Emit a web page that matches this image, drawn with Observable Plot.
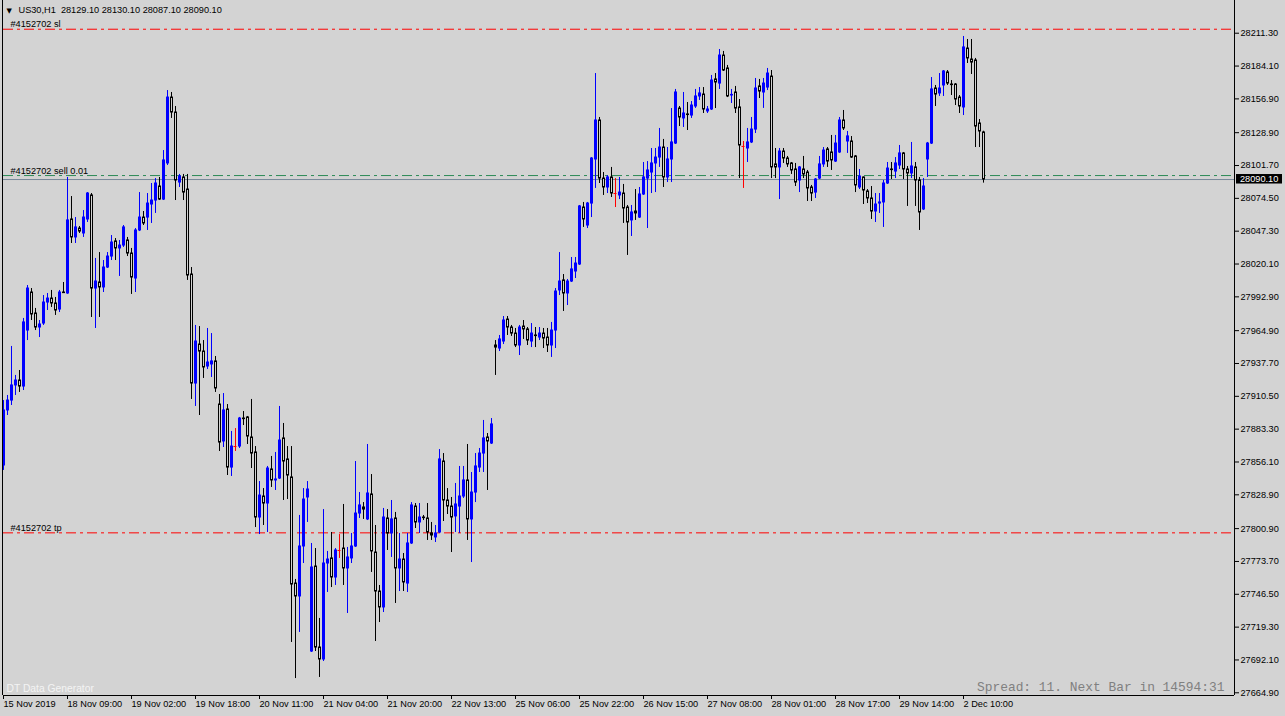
<!DOCTYPE html>
<html>
<head>
<meta charset="utf-8">
<script src="https://cdn.jsdelivr.net/npm/d3@7"></script>
<script src="https://cdn.jsdelivr.net/npm/@observablehq/plot@0.6"></script>
<style>
html,body{margin:0;padding:0;background:#d3d3d3;overflow:hidden;}
</style>
</head>
<body>
<div id="chart"></div>
<script>
const symbol = "US30,H1";
const orderId = "#4152702";
const orderSide = "sell";
const orderLots = "0.01";
const stopLoss = 28214.6;
const takeProfit = 27797.4;
const orderPrice = 28093.4;
const bid = 28090.1;
const spreadPts = 11;
const nextBarIn = "14594:31";
const watermark = "DT Data Generator";

const openP = [27853.2,27898.8,27907.0,27919.5,27923.6,27918.6,27965.0,27996.5,27979.1,27967.5,
27970.8,27988.2,27991.5,27987.4,27982.4,27996.5,27995.7,28057.0,28042.1,28049.5,
28045.4,28057.0,28076.9,27999.8,28004.8,28000.7,28017.2,28026.3,28038.8,28033.0,
28035.4,28039.6,28028.8,28008.1,28047.9,28058.6,28058.6,28069.4,28072.7,28084.3,
28073.5,28103.4,28158.0,28145.6,28087.6,28091.8,28081.8,28011.4,27921.1,27953.4,
27947.6,27935.2,27936.9,27939.4,27903.7,27873.1,27899.6,27851.5,27868.9,27868.9,
27892.1,27893.0,27876.4,27864.0,27810.1,27827.5,27821.7,27849.9,27840.8,27842.4,
27875.6,27858.2,27843.3,27755.4,27744.7,27786.1,27826.7,27699.1,27769.5,27702.4,
27692.5,27772.0,27776.2,27760.4,27782.8,27784.4,27767.9,27776.2,27786.1,27813.4,
27818.4,27808.5,27829.2,27781.1,27748.8,27735.6,27809.3,27796.9,27809.3,27767.9,
27775.3,27755.4,27788.6,27819.2,27806.0,27810.1,27809.3,27796.9,27793.6,27797.7,
27856.5,27824.2,27819.2,27811.0,27819.2,27827.5,27840.8,27808.5,27830.8,27851.5,
27863.1,27876.4,27871.4,27952.6,27950.1,27955.9,27974.1,27967.5,27962.5,27952.6,
27968.3,27965.9,27955.9,27960.9,27959.2,27962.5,27959.2,27952.6,27965.0,27998.2,
28006.5,27995.7,28005.6,28013.9,28019.7,28066.9,28052.0,28070.2,28106.7,28139.0,
28090.9,28083.5,28091.8,28078.5,28076.9,28078.5,28066.9,28056.2,28063.6,28058.6,
28077.7,28090.9,28095.9,28103.4,28108.3,28116.6,28091.8,28106.7,28119.9,28148.9,
28140.7,28144.0,28143.1,28150.6,28158.9,28160.5,28146.5,28148.1,28173.0,28169.6,
28192.8,28182.1,28159.7,28162.2,28149.8,28117.5,28115.8,28120.8,28131.5,28167.2,
28162.2,28166.3,28175.4,28102.6,28100.1,28113.3,28107.5,28103.4,28098.4,28089.3,
28098.4,28095.9,28083.5,28079.3,28090.9,28102.6,28115.0,28112.5,28105.0,28112.5,
28139.0,28121.6,28121.6,28109.2,28083.5,28091.8,28080.2,28074.4,28063.6,28070.2,
28071.1,28086.8,28098.4,28096.7,28101.7,28111.7,28098.4,28095.1,28100.1,28089.3,
28065.3,28106.7,28119.9,28165.5,28161.4,28168.0,28178.8,28168.8,28168.8,28158.0,
28149.8,28198.6,28189.5,28188.7,28136.5,28129.1];

const highP = [27907.0,27911.2,27951.8,27927.8,27931.9,27975.0,28002.3,27999.8,27983.3,27973.3,
27994.0,27995.7,27998.2,27992.4,27998.2,28004.8,28091.8,28076.0,28058.6,28051.2,
28064.4,28079.3,28078.5,28024.7,28029.6,28023.0,28029.6,28043.7,28041.2,28039.6,
28052.0,28042.1,28033.0,28049.5,28079.3,28063.6,28078.5,28086.8,28090.9,28091.8,
28114.1,28163.8,28162.2,28150.6,28094.3,28094.3,28094.3,28017.2,27969.2,27968.3,
27956.7,27966.7,27962.5,27943.5,27912.0,27912.8,27903.7,27881.4,27883.8,27893.0,
27897.9,27893.8,27907.9,27868.9,27839.9,27834.1,27852.4,27860.7,27864.0,27902.1,
27888.0,27868.9,27868.9,27758.8,27811.8,27834.1,27839.9,27788.6,27784.4,27726.5,
27816.7,27782.0,27797.7,27784.4,27796.0,27820.9,27785.3,27796.9,27856.5,27830.8,
27822.5,27870.6,27845.7,27803.5,27753.8,27817.6,27816.7,27824.2,27814.3,27796.9,
27780.3,27796.9,27822.5,27821.7,27821.7,27811.8,27821.7,27806.0,27803.5,27866.4,
27863.1,27834.1,27826.7,27838.3,27852.4,27852.4,27870.6,27847.4,27863.1,27867.3,
27890.5,27879.7,27892.1,27956.7,27960.9,27976.6,27976.6,27969.2,27966.7,27969.2,
27973.3,27967.5,27970.8,27967.5,27967.5,27966.7,27966.7,27971.7,27999.8,28029.6,
28011.4,28007.3,28025.5,28025.5,28068.6,28071.1,28071.1,28108.3,28177.9,28141.5,
28095.9,28093.4,28100.1,28090.9,28091.8,28086.0,28068.6,28068.6,28081.8,28083.5,
28104.2,28105.0,28115.8,28115.8,28132.4,28123.3,28116.6,28148.9,28164.7,28150.6,
28162.2,28153.9,28154.7,28164.7,28166.3,28166.3,28150.6,28176.3,28177.9,28197.8,
28196.2,28184.6,28164.7,28167.2,28156.4,28121.6,28132.4,28141.5,28173.8,28173.0,
28173.8,28182.1,28180.4,28115.8,28115.8,28115.8,28109.2,28104.2,28103.4,28100.9,
28109.2,28097.6,28085.2,28090.9,28109.2,28116.6,28116.6,28126.6,28126.6,28141.5,
28147.3,28129.9,28125.7,28110.0,28098.4,28092.2,28081.8,28084.3,28078.5,28078.5,
28089.3,28104.2,28104.2,28108.3,28118.3,28112.5,28100.9,28120.8,28104.2,28091.8,
28090.9,28120.8,28174.6,28168.0,28177.9,28180.4,28180.4,28172.1,28169.6,28159.7,
28208.6,28206.1,28206.1,28190.4,28139.8,28130.1];

const lowP = [27849.1,27894.6,27902.9,27911.2,27913.7,27915.3,27956.7,27973.3,27965.0,27959.2,
27969.2,27981.6,27984.1,27977.5,27979.9,27995.7,27995.0,28037.1,28037.1,28045.4,
28042.1,28054.5,27975.8,27966.7,27975.8,27996.5,28016.4,28023.0,28023.0,28009.8,
28033.8,28026.3,27994.9,27996.5,28047.0,28052.0,28047.9,28053.7,28062.0,28072.7,
28072.7,28101.7,28140.7,28072.7,28083.5,28072.7,28006.5,27907.9,27902.1,27894.6,
27925.3,27932.7,27926.1,27913.7,27864.8,27868.1,27844.9,27844.1,27864.8,27867.3,
27886.3,27870.6,27850.7,27801.8,27796.0,27803.5,27797.7,27835.0,27832.5,27841.6,
27824.2,27825.0,27706.6,27676.7,27714.9,27772.0,27806.0,27698.3,27699.1,27677.6,
27690.8,27748.0,27752.1,27753.8,27776.2,27753.8,27730.6,27772.0,27785.3,27809.3,
27808.5,27807.6,27764.6,27707.4,27723.1,27731.4,27782.8,27777.0,27738.9,27748.8,
27748.8,27748.0,27787.8,27801.0,27796.9,27807.6,27791.1,27791.1,27789.4,27796.9,
27806.8,27812.6,27781.1,27797.7,27796.9,27825.9,27791.1,27772.8,27822.5,27847.4,
27847.4,27832.5,27870.6,27927.8,27947.6,27953.4,27960.9,27960.1,27950.9,27944.3,
27957.6,27952.6,27950.9,27950.9,27956.7,27950.1,27946.8,27942.7,27950.1,27994.0,
27980.8,27985.7,28004.8,28008.1,28018.9,28050.4,28049.5,28058.6,28082.7,28086.8,
28076.9,28078.5,28075.2,28066.9,28073.5,28053.7,28027.2,28042.9,28056.2,28057.8,
28076.9,28049.5,28078.5,28079.3,28100.1,28083.5,28087.6,28087.6,28119.1,28134.0,
28133.2,28130.7,28140.7,28149.0,28155.6,28144.8,28144.8,28147.3,28148.9,28164.7,
28179.6,28158.0,28153.1,28144.8,28090.9,28082.7,28104.2,28119.9,28128.2,28157.2,
28149.0,28163.8,28090.9,28090.9,28073.5,28103.4,28100.1,28094.3,28084.3,28079.3,
28090.9,28071.9,28071.9,28074.4,28090.1,28100.1,28100.1,28097.6,28104.2,28111.7,
28130.7,28111.7,28107.5,28079.3,28081.8,28069.4,28070.2,28057.0,28054.5,28062.0,
28050.4,28086.0,28090.1,28090.9,28098.4,28090.1,28067.8,28090.9,28067.8,28047.9,
28064.4,28091.8,28119.1,28150.6,28158.9,28158.9,28168.0,28159.7,28151.4,28144.8,
28143.1,28186.2,28177.1,28116.6,28116.6,28087.1];

const closeP = [27898.8,27907.0,27919.5,27923.6,27918.6,27971.7,27999.8,27978.3,27967.5,27970.0,
27988.2,27991.5,27987.4,27981.6,27996.5,27996.0,28056.2,28042.1,28050.4,28047.0,
28058.6,28078.5,27999.8,28005.6,28000.7,28017.2,28026.3,28037.9,28033.0,28035.4,
28050.4,28028.8,28008.9,28047.9,28058.6,28053.7,28070.2,28072.7,28086.8,28073.5,
28105.9,28158.0,28145.6,28089.3,28092.6,28079.3,28010.6,27921.1,27955.9,27947.6,
27934.4,27938.5,27939.4,27917.0,27872.2,27898.8,27851.5,27868.9,27868.9,27892.1,
27891.6,27877.2,27863.1,27810.1,27828.3,27821.7,27850.7,27840.8,27841.6,27873.9,
27856.5,27844.9,27754.6,27744.7,27786.1,27825.0,27833.3,27768.7,27702.4,27692.5,
27772.0,27775.3,27760.4,27782.8,27782.8,27767.9,27777.0,27786.1,27813.4,27820.1,
27816.7,27830.0,27782.0,27748.8,27735.6,27810.1,27796.9,27808.5,27767.9,27775.3,
27756.3,27788.6,27820.1,27806.0,27810.1,27809.6,27797.7,27795.2,27796.9,27858.2,
27824.2,27819.2,27810.1,27820.9,27827.5,27840.8,27808.5,27830.8,27852.4,27863.1,
27875.6,27873.1,27887.2,27950.9,27957.6,27973.3,27967.5,27962.5,27952.6,27967.5,
27965.9,27956.7,27962.5,27960.4,27962.5,27958.4,27952.6,27965.0,27997.3,28005.6,
27995.7,28005.6,28015.6,28020.5,28067.8,28057.0,28070.2,28107.5,28139.0,28090.9,
28083.5,28091.8,28078.5,28078.5,28079.3,28066.1,28054.5,28062.8,28062.0,28077.7,
28091.8,28097.6,28103.4,28108.3,28116.6,28091.8,28106.7,28120.8,28162.2,28141.5,
28144.8,28143.5,28151.4,28158.9,28161.4,28148.1,28148.1,28172.1,28170.5,28192.8,
28180.4,28158.9,28160.2,28148.9,28118.3,28117.5,28120.8,28131.5,28165.5,28163.0,
28169.6,28177.9,28100.1,28100.1,28113.3,28107.5,28102.6,28097.6,28087.6,28100.1,
28094.3,28082.7,28078.5,28090.1,28102.6,28114.1,28105.0,28105.9,28119.9,28139.0,
28132.4,28125.8,28108.3,28085.2,28092.6,28081.0,28074.4,28063.6,28069.4,28071.1,
28086.8,28099.2,28097.9,28103.4,28111.7,28098.4,28095.1,28100.9,28089.3,28062.8,
28084.3,28119.9,28164.7,28160.5,28165.5,28179.6,28169.6,28168.3,28156.4,28150.6,
28199.5,28190.4,28187.0,28134.0,28129.9,28090.1];

const yTicks = [28211.30,28184.10,28156.90,28128.90,28101.70,28074.50,28047.30,28020.10,27992.90,
27964.90,27937.70,27910.50,27883.30,27856.10,27828.90,27800.90,27773.70,27746.50,27719.30,27692.10,27664.90];

const xTickBars = [0,16,32,48,64,80,96,112,128,144,160,176,192,208,224,240];
const xTickLabels = ["15 Nov 2019","18 Nov 09:00","19 Nov 02:00","19 Nov 18:00","20 Nov 11:00",
"21 Nov 04:00","21 Nov 20:00","22 Nov 13:00","25 Nov 06:00","25 Nov 22:00","26 Nov 15:00",
"27 Nov 08:00","28 Nov 01:00","28 Nov 17:00","29 Nov 14:00","2 Dec 10:00"];

// ---- build ----
const W = 1285, H = 716;
const bg = "#d3d3d3";
const upColor = "#0000ff", downColor = "#000000", dojiColor = "#ff0000";
const dashDot = "10,4,3,4";
const xDomain = [0, 307.75];
const yDomain = [27662.66, 28238.4];

const rows = openP.map((o, i) => ({i, open: o, high: highP[i], low: lowP[i], close: closeP[i]}));
const up = rows.filter(d => d.close > d.open);
const down = rows.filter(d => d.close < d.open);
const doji = rows.filter(d => d.close === d.open);
const last = rows[rows.length - 1];
const header = `${symbol}\u00a0 ${last.open.toFixed(2)} ${last.high.toFixed(2)} ${last.low.toFixed(2)} ${last.close.toFixed(2)}`;

const fontSans = "'Liberation Sans', Arial, sans-serif";
// body edges sit on pixel centres so the 1px outline is crisp
const bodyL = d => d.i - 0.125, bodyR = d => d.i + 0.375;

const chart = Plot.plot({
  width: W, height: H,
  marginLeft: 3, marginRight: 51, marginTop: 0, marginBottom: 21,
  style: {background: bg, color: "#000", fontFamily: fontSans, fontSize: "9.2px"},
  x: {domain: xDomain, axis: null, label: null},
  y: {domain: yDomain, axis: null, label: null},
  marks: [
    Plot.ruleY([stopLoss, takeProfit], {stroke: "#ff0000", strokeDasharray: dashDot}),
    Plot.ruleY([bid], {stroke: "#778899"}),
    Plot.ruleY([orderPrice], {stroke: "#2e8b57", strokeDasharray: dashDot}),
    Plot.ruleX(up, {x: "i", y1: "low", y2: "high", stroke: upColor}),
    Plot.ruleX(down, {x: "i", y1: "low", y2: "high", stroke: downColor}),
    Plot.ruleX(doji, {x: "i", y1: "low", y2: "high", stroke: dojiColor}),
    Plot.rect(up, {x1: bodyL, x2: bodyR, y1: "open", y2: "close", fill: upColor, stroke: upColor, strokeWidth: 1}),
    Plot.rect(down, {x1: bodyL, x2: bodyR, y1: "open", y2: "close", fill: bg, stroke: downColor, strokeWidth: 1}),
    Plot.ruleY(doji, {y: "open", x1: d => d.i - 0.375, x2: d => d.i + 0.375, stroke: dojiColor}),
    Plot.ruleX([xDomain[0] - 0.25], {stroke: "#000"}),
    Plot.ruleX([xDomain[1]], {stroke: "#000"}),
    Plot.ruleY([yDomain[0]], {stroke: "#000"}),
    Plot.axisY({anchor: "right", ticks: yTicks, tickSize: 4, tickPadding: 2, tickFormat: d => d.toFixed(2), textAnchor: "start", fill: "#000", label: null}),
    Plot.axisX({anchor: "bottom", ticks: xTickBars, tickSize: 4, tickPadding: 1, tickFormat: d => xTickLabels[xTickBars.indexOf(d)], textAnchor: "start", fill: "#000", label: null}),
    Plot.text(["\u25BC"], {frameAnchor: "top-left", dx: 3, dy: 10, lineAnchor: "middle", textAnchor: "start", fontSize: 7, fontFamily: "'DejaVu Sans', sans-serif", fill: "#000"}),
    Plot.text([header], {frameAnchor: "top-left", dx: 15, dy: 10, lineAnchor: "middle", textAnchor: "start", fill: "#000"}),
    Plot.text([stopLoss], {y: d => d, frameAnchor: "left", dx: 7, dy: -2, lineAnchor: "bottom", textAnchor: "start", text: () => `${orderId} sl`, fill: "#000"}),
    Plot.text([orderPrice], {y: d => d, frameAnchor: "left", dx: 7, dy: -2, lineAnchor: "bottom", textAnchor: "start", text: () => `${orderId} ${orderSide} ${orderLots}`, fill: "#000"}),
    Plot.text([takeProfit], {y: d => d, frameAnchor: "left", dx: 7, dy: -2, lineAnchor: "bottom", textAnchor: "start", text: () => `${orderId} tp`, fill: "#000"}),
    Plot.text([watermark], {frameAnchor: "bottom-left", dx: 3, dy: -4, lineAnchor: "bottom", textAnchor: "start", fontSize: 10.3, fill: "#f4f4f4"}),
    Plot.text([`Spread: ${spreadPts}. Next Bar in ${nextBarIn}`], {frameAnchor: "bottom-right", dx: -10, dy: -5, lineAnchor: "bottom", textAnchor: "end", fontSize: 12.9, fontFamily: "'Liberation Mono', 'DejaVu Sans Mono', monospace", fill: "#808080"})
  ]
});

// current price box on the price axis
const ys = chart.scale("y");
const yb = ys.apply(bid);
const svg = d3.select(chart);
const bx = W - 51 + 2;
svg.append("rect").attr("x", bx).attr("y", yb - 5).attr("width", 46).attr("height", 9.5).attr("fill", "#000");
svg.append("text").attr("x", bx + 4).attr("y", yb).attr("dy", "0.32em").attr("text-anchor", "start")
  .attr("fill", "#fff").attr("font-family", fontSans).attr("font-size", "9.2px").text(bid.toFixed(2));

document.getElementById("chart").appendChild(chart);
</script>
</body>
</html>
